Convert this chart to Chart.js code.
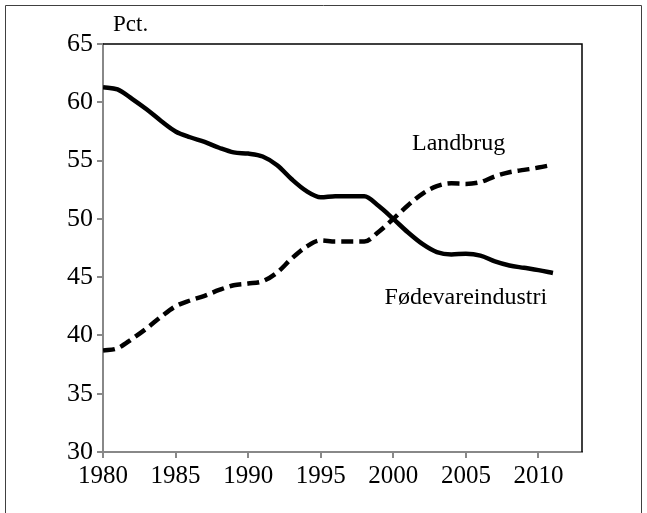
<!DOCTYPE html>
<html>
<head>
<meta charset="utf-8">
<script src="https://cdn.jsdelivr.net/npm/chart.js@4/dist/chart.umd.min.js"></script>
<style>
  body { margin: 0; background: #fff; }
  canvas { display: block; }
</style>
</head>
<body>
<canvas id="chart" width="647" height="513"></canvas>
<script>
var years = [];
for (var y = 1980; y <= 2011; y++) years.push(y);

// solid line
var solidValues = [
  61.3, 61.1, 60.3, 59.4, 58.4, 57.5, 57.0, 56.6, 56.1, 55.7,
  55.6, 55.35, 54.6, 53.4, 52.4, 51.85, 51.95, 51.95, 51.95, 51.1,
  50.0, 48.85, 47.85, 47.15, 46.95, 47.0, 46.85, 46.35, 46.0, 45.8,
  45.6, 45.35
];
// dashed line
var dashedValues = [
  38.7, 38.9, 39.7, 40.6, 41.6, 42.5, 43.0, 43.4, 43.9, 44.3,
  44.45, 44.65, 45.4, 46.6, 47.6, 48.15, 48.05, 48.05, 48.05, 48.9,
  50.0, 51.15, 52.15, 52.8, 53.05, 53.0, 53.15, 53.65, 54.0, 54.2,
  54.4, 54.65
];
var yTicks = [30, 35, 40, 45, 50, 55, 60, 65];
var xTicks = [1980, 1985, 1990, 1995, 2000, 2005, 2010];

var FONT = "'Liberation Serif', 'Times New Roman', serif";

var decor = {
  id: "decor",
  beforeDraw: function (chart) {
    var ctx = chart.ctx;
    ctx.save();
    ctx.strokeStyle = "#404040";
    ctx.lineWidth = 1;
    ctx.beginPath();
    ctx.moveTo(5.5, 520);
    ctx.lineTo(5.5, 5.5);
    ctx.lineTo(641.5, 5.5);
    ctx.lineTo(641.5, 520);
    ctx.stroke();
    ctx.restore();
  },
  afterDraw: function (chart) {
    var ctx = chart.ctx;
    var a = chart.chartArea;
    var xs = chart.scales.x, ys = chart.scales.y;
    ctx.save();
    // plot frame top and right
    ctx.strokeStyle = "#000";
    ctx.lineWidth = 1.5;
    ctx.beginPath();
    ctx.moveTo(a.left, a.top);
    ctx.lineTo(a.right, a.top);
    ctx.lineTo(a.right, a.bottom);
    ctx.stroke();
    // texts
    ctx.fillStyle = "#000";
    ctx.textBaseline = "alphabetic";
    ctx.textAlign = "left";
    ctx.font = "23px " + FONT;
    ctx.fillText("Pct.", a.left + 10, a.top - 13);
    ctx.font = "24px " + FONT;
    ctx.textAlign = "center";
    ctx.fillText("Landbrug", xs.getPixelForValue(2004.5), ys.getPixelForValue(55.9));
    ctx.fillText("Fødevareindustri", xs.getPixelForValue(2005), ys.getPixelForValue(42.7));
    ctx.restore();
  }
};

new Chart(document.getElementById("chart"), {
  type: "line",
  data: {
    datasets: [
      {
        label: "Fødevareindustri",
        data: years.map(function (yr, i) { return { x: yr, y: solidValues[i] }; }),
        borderColor: "#000",
        borderWidth: 4.5,
        pointRadius: 0,
        cubicInterpolationMode: "monotone",
        fill: false,
      },
      {
        label: "Landbrug",
        data: years.map(function (yr, i) { return { x: yr, y: dashedValues[i] }; }),
        borderColor: "#000",
        borderWidth: 4.5,
        borderDash: [12, 6],
        pointRadius: 0,
        cubicInterpolationMode: "monotone",
        fill: false,
      },
    ],
  },
  options: {
    responsive: false,
    animation: false,
    devicePixelRatio: 1,
    layout: { padding: { left: 0, top: 44, right: 65, bottom: 0 } },
    plugins: { legend: { display: false }, tooltip: { enabled: false } },
    scales: {
      x: {
        type: "linear",
        min: 1980,
        max: 2013,
        afterBuildTicks: function (s) {
          s.ticks = xTicks.map(function (v) { return { value: v }; });
        },
        afterFit: function (s) { s.height = 61; },
        border: { color: "#888", width: 2 },
        grid: { drawOnChartArea: false, drawTicks: true, tickLength: 6, color: "#888", lineWidth: 2 },
        ticks: {
          color: "#000",
          font: { family: FONT, size: 25 },
          padding: 3,
          maxRotation: 0,
          callback: function (v) { return String(v); },
        },
      },
      y: {
        min: 30,
        max: 65,
        afterBuildTicks: function (s) {
          s.ticks = yTicks.map(function (v) { return { value: v }; });
        },
        afterFit: function (s) { s.width = 103; },
        border: { color: "#888", width: 2 },
        grid: { drawOnChartArea: false, drawTicks: true, tickLength: 6, color: "#888", lineWidth: 2 },
        ticks: {
          color: "#000",
          font: { family: FONT, size: 26 },
          padding: 4,
        },
      },
    },
  },
  plugins: [decor],
});
</script>
</body>
</html>
